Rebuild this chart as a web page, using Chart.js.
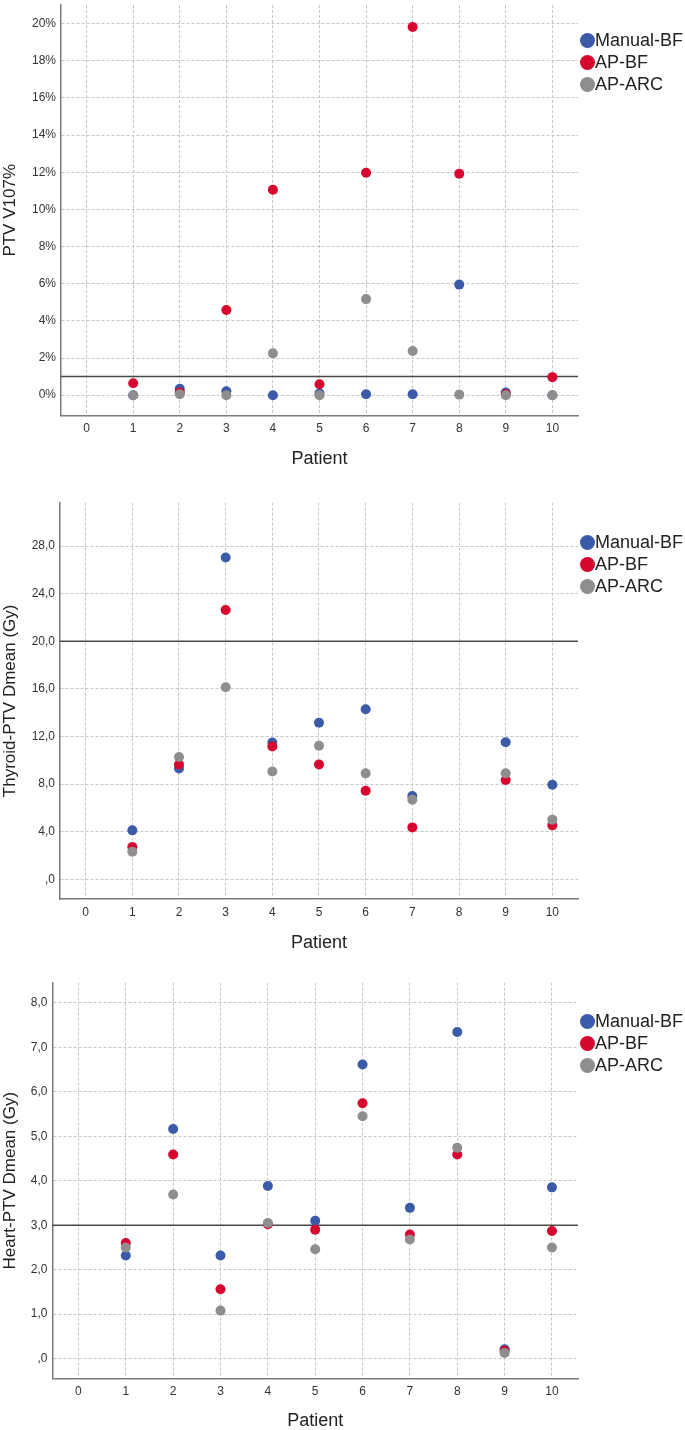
<!DOCTYPE html>
<html>
<head>
<meta charset="utf-8">
<title>Patient dose plots</title>
<script src="https://cdn.jsdelivr.net/npm/chart.js@4.4.1/dist/chart.umd.min.js"></script>
<style>
  html, body { margin: 0; padding: 0; background: #fff; }
  body { width: 685px; height: 1430px; position: relative; overflow: hidden;
         font-family: "Liberation Sans", Arial, sans-serif; }
  .panel { position: absolute; left: 0; width: 685px; }
  .panel canvas { position: absolute; left: 0; top: 0; }
  .leyenda { position: absolute; left: 580px; list-style: none; margin: 0; padding: 0; }
  .leyenda li { height: 22px; line-height: 22px; font-size: 18px; color: #222; white-space: nowrap; }
  .leyenda span { display: inline-block; width: 15px; height: 15px; border-radius: 50%;
                  vertical-align: -2px; }
</style>
</head>
<body>

<div class="panel" id="p1"><canvas id="g1"></canvas><ul class="leyenda"></ul></div>
<div class="panel" id="p2"><canvas id="g2"></canvas><ul class="leyenda"></ul></div>
<div class="panel" id="p3"><canvas id="g3"></canvas><ul class="leyenda"></ul></div>

<script>
'use strict';

// datos
var patients = [1, 2, 3, 4, 5, 6, 7, 8, 9, 10];
var seriesNames = ['Manual-BF', 'AP-BF', 'AP-ARC'];

// PTV V107 (%)
var v107Manual = [0.0, 0.34, 0.21, 0.0, 0.10, 0.05, 0.05, 5.95, 0.14, 0.0];
var v107APBF   = [0.64, 0.15, 4.58, 11.06, 0.59, 11.97, 19.82, 11.92, 0.05, 0.97];
var v107APARC  = [0.0, 0.05, 0.0, 2.25, 0.0, 5.17, 2.38, 0.03, 0.0, 0.0];
var v107Limit  = 1;

// Thyroid-PTV Dmean (Gy), el paciente 8 no tiene dato
var thyroidManual = [4.11, 9.31, 27.05, 11.50, 13.15, 14.29, 6.99, null, 11.52, 7.94];
var thyroidAPBF   = [2.71, 9.65, 22.63, 11.16, 9.65, 7.44, 4.36, null, 8.34, 4.53];
var thyroidAPARC  = [2.32, 10.27, 16.14, 9.06, 11.22, 8.90, 6.69, null, 8.90, 5.01];
var thyroidLimit  = 20;

// Heart-PTV Dmean (Gy)
var heartManual = [2.32, 5.16, 2.32, 3.88, 3.10, 6.61, 3.39, 7.34, 0.21, 3.85];
var heartAPBF   = [2.60, 4.59, 1.56, 3.02, 2.90, 5.74, 2.79, 4.59, 0.18, 2.87];
var heartAPARC  = [2.50, 3.69, 1.08, 3.05, 2.46, 5.45, 2.68, 4.74, 0.13, 2.50];
var heartLimit  = 3;

var colores = ['#3b5aa8', '#d7062f', '#8f8d8d'];

Chart.defaults.font.family = '"Liberation Sans", Arial, sans-serif';

function fmtPct(v) { return v + '%'; }
function fmtComa(v) { return v === 0 ? ',0' : v.toFixed(1).replace('.', ','); }

var paneles = [
    { canvas: 'g1', caja: 'p1', top: 0, height: 472, left: 61, areaTop: 3, areaBottom: 415.6,
      titlePad: 4, legendTop: 29, titulo: 'PTV V107%', yMin: -1.1, yMax: 21.0, paso: 2,
      formato: fmtPct, limite: v107Limit, series: [v107Manual, v107APBF, v107APARC] },
    { canvas: 'g2', caja: 'p2', top: 478, height: 476, left: 60, areaTop: 24.7, areaBottom: 421,
      titlePad: 2, legendTop: 52.7, titulo: 'Thyroid-PTV Dmean (Gy)', yMin: -1.66, yMax: 31.65, paso: 4,
      formato: fmtComa, limite: thyroidLimit, series: [thyroidManual, thyroidAPBF, thyroidAPARC] },
    { canvas: 'g3', caja: 'p3', top: 956, height: 474, left: 52.4, areaTop: 26.7, areaBottom: 422.7,
      titlePad: 0, legendTop: 54, titulo: 'Heart-PTV Dmean (Gy)', yMin: -0.45, yMax: 8.45, paso: 1,
      formato: fmtComa, limite: heartLimit, series: [heartManual, heartAPBF, heartAPARC] }
];

// linea horizontal de referencia, bajo los puntos
var lineaLimite = {
    id: 'lineaLimite',
    beforeDatasetsDraw: function(chart, args, opts) {
        var y = chart.scales.y.getPixelForValue(opts.valor);
        var area = chart.chartArea;
        var ctx = chart.ctx;
        ctx.save();
        ctx.strokeStyle = '#4a4a4a';
        ctx.lineWidth = 1.5;
        ctx.beginPath();
        ctx.moveTo(area.left, y);
        ctx.lineTo(area.right, y);
        ctx.stroke();
        ctx.restore();
    }
};

function puntos(valores) {
    var out = [];
    for (var i = 0; i < patients.length; i++) {
        if (valores[i] !== null) out.push({ x: patients[i], y: valores[i] });
    }
    return out;
}

function dibujarLeyenda(ul, top) {
    ul.style.top = top + 'px';
    var html = '';
    for (var i = 0; i < seriesNames.length; i++) {
        html += '<li><span style="background:' + colores[i] + '"></span>' + seriesNames[i] + '</li>';
    }
    ul.innerHTML = html;
}

paneles.forEach(function(p) {
    var caja = document.getElementById(p.caja);
    caja.style.top = p.top + 'px';
    caja.style.height = p.height + 'px';

    var canvas = document.getElementById(p.canvas);
    canvas.width = 685;
    canvas.height = p.height;

    var datasets = p.series.map(function(valores, i) {
        return {
            label: seriesNames[i],
            data: puntos(valores),
            backgroundColor: colores[i],
            borderColor: colores[i],
            borderWidth: 0,
            pointRadius: 5,
            pointHoverRadius: 5,
            order: 3 - i   // el gris queda encima
        };
    });

    new Chart(canvas.getContext('2d'), {
        type: 'scatter',
        data: { datasets: datasets },
        plugins: [lineaLimite],
        options: {
            responsive: false,
            animation: false,
            devicePixelRatio: 1,
            layout: { padding: { top: p.areaTop, right: 107, left: 0, bottom: 0 } },
            plugins: {
                legend: { display: false },
                tooltip: { enabled: false },
                lineaLimite: { valor: p.limite }
            },
            scales: {
                x: {
                    type: 'linear',
                    min: -0.55,
                    max: 10.55,
                    afterFit: function(escala) {
                        escala.height = p.height - p.areaBottom;
                        escala.paddingLeft = 0;
                        escala.paddingRight = 0;
                    },
                    ticks: { stepSize: 1, includeBounds: false, padding: 6,
                             color: '#333', font: { size: 12 } },
                    grid: { color: '#c6c6c6', lineWidth: 1, drawTicks: false },
                    border: { display: true, color: '#7a7a7a', width: 1.5, dash: [3, 2] },
                    title: { display: true, text: 'Patient', color: '#222',
                             font: { size: 18, lineHeight: 1 },
                             padding: { top: 0, bottom: p.titlePad } }
                },
                y: {
                    type: 'linear',
                    min: p.yMin,
                    max: p.yMax,
                    afterFit: function(escala) {
                        escala.width = p.left;
                        escala.paddingTop = 0;
                        escala.paddingBottom = 0;
                    },
                    ticks: { stepSize: p.paso, includeBounds: false, padding: 5,
                             color: '#333', font: { size: 12 },
                             callback: function(v) { return p.formato(v); } },
                    grid: { color: '#c6c6c6', lineWidth: 1, drawTicks: false },
                    border: { display: true, color: '#7a7a7a', width: 1.5, dash: [3, 2] },
                    title: { display: true, text: p.titulo, color: '#222',
                             font: { size: 17, lineHeight: 1 },
                             padding: { top: 2, bottom: 0 } }
                }
            }
        }
    });

    dibujarLeyenda(caja.querySelector('.leyenda'), p.legendTop);
});
</script>
</body>
</html>
